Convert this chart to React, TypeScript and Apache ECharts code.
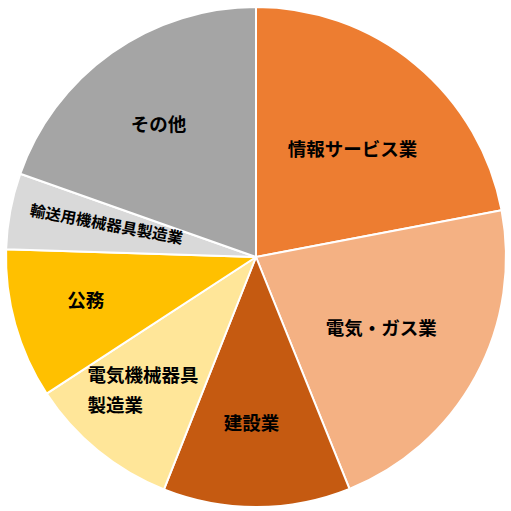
import React, { useEffect, useRef } from "react";
import * as echarts from "echarts";

const categories = [
  "情報サービス業",
  "電気・ガス業",
  "建設業",
  "電気機械器具製造業",
  "公務",
  "輸送用機械器具製造業",
  "その他",
];
const values = [22.0, 21.9, 12.1, 9.8, 9.7, 4.9, 19.6];
const labelTexts = [
  "情報サービス業",
  "電気・ガス業",
  "建設業",
  "{l|電気機械器具}\n{l|製造業}",
  "公務",
  "輸送用機械器具製造業",
  "その他",
];
const colors = ["#ED7D31", "#F4B183", "#C55A11", "#FFE699", "#FFC000", "#D9D9D9", "#A5A5A5"];
const labelOffsets: [number, number][] = [
  [15, -10],
  [13, 9],
  [-5, 37],
  [-32, 33],
  [-47, 7],
  [-25, -6],
  [-23.5, -30],
];

export default function App() {
  const ref = useRef<HTMLDivElement>(null);
  useEffect(() => {
    document.body.style.margin = "0";
    const chart = echarts.init(ref.current!, undefined, { renderer: "svg" });
    const font = '"Noto Sans CJK JP", "Noto Sans", sans-serif';
    chart.setOption({
      animation: false,
      series: [
        {
          type: "pie",
          center: [256, 257],
          radius: [0, 250],
          startAngle: 90,
          clockwise: true,
          avoidLabelOverlap: false,
          labelLine: { show: false },
          itemStyle: { borderColor: "#ffffff", borderWidth: 2 },
          emphasis: { disabled: true },
          data: categories.map((name, i) => ({
            name,
            value: values[i],
            itemStyle: { color: colors[i] },
            label: {
              show: true,
              position: "inside",
              formatter: labelTexts[i],
              color: "#000000",
              fontFamily: font,
              fontWeight: "bold",
              fontSize: i === 5 ? 15.5 : 18.5,
              lineHeight: 30,
              offset: labelOffsets[i],
              rotate: i === 5 ? "radial" : 0,
              rich: {
                l: {
                  width: 111,
                  align: "left",
                  color: "#000000",
                  fontFamily: font,
                  fontWeight: "bold",
                  fontSize: 18.5,
                  lineHeight: 30,
                },
              },
            },
          })),
        },
      ],
    });
    return () => chart.dispose();
  }, []);
  return <div ref={ref} style={{ width: 511, height: 511 }} />;
}
